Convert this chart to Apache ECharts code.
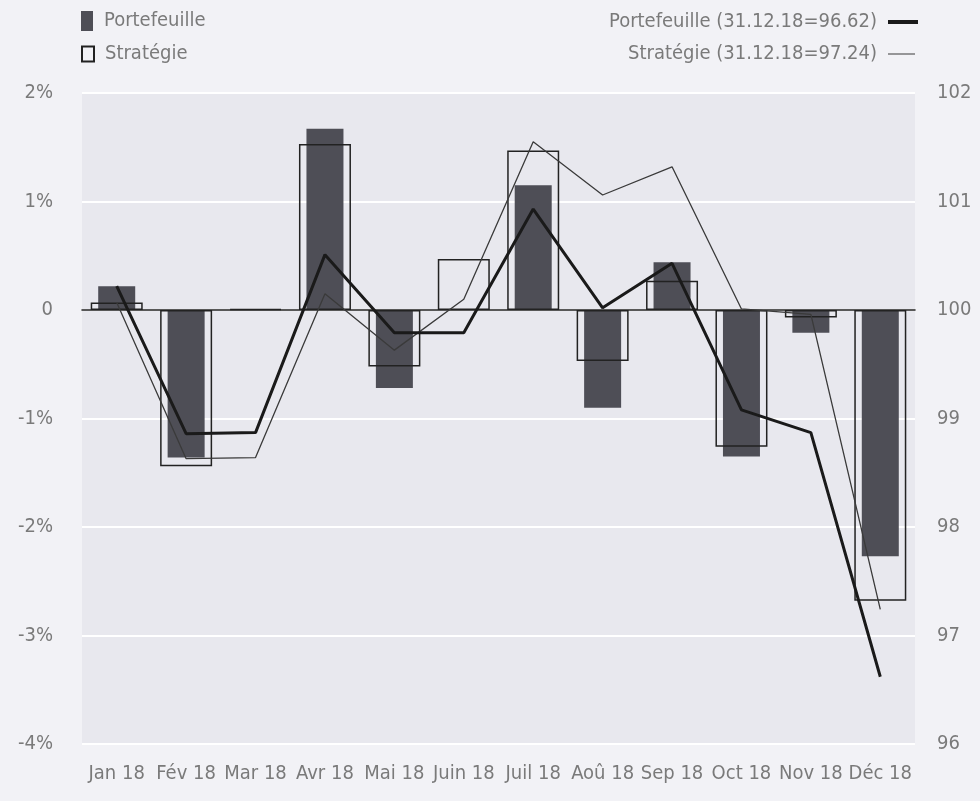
<!DOCTYPE html>
<html>
<head>
<meta charset="utf-8">
<script src="https://cdn.jsdelivr.net/npm/echarts@6/dist/echarts.min.js"></script>
<style>
  html, body { margin: 0; padding: 0; background: #f2f2f6; }
  #chart { width: 980px; height: 801px; }
</style>
</head>
<body>
<div id="chart"></div>
<script>
// mois
const months = ['Jan 18', 'Fév 18', 'Mar 18', 'Avr 18', 'Mai 18', 'Juin 18', 'Juil 18', 'Aoû 18', 'Sep 18', 'Oct 18', 'Nov 18', 'Déc 18']

// performances mensuelles (%)
const portfolioReturns = [0.22, -1.36, 0.01, 1.67, -0.72, 0.0, 1.15, -0.90, 0.44, -1.35, -0.21, -2.27]
const strategyReturns = [0.07, -1.44, 0.01, 1.53, -0.52, 0.47, 1.47, -0.47, 0.27, -1.26, -0.07, -2.68]

// indices base 100
const portfolioIndex = [100.22, 98.86, 98.87, 100.51, 99.79, 99.79, 100.93, 100.02, 100.43, 99.08, 98.87, 96.62]
const strategyIndex = [100.07, 98.63, 98.64, 100.15, 99.63, 100.10, 101.55, 101.06, 101.32, 100.01, 99.96, 97.24]

const FONT = 'DejaVu Sans Condensed'
const TEXT = '#7a7a7a'
const FONT_SIZE = 20

const chart = echarts.init(document.getElementById('chart'))

const legendBase = {
  orient: 'vertical',
  selectedMode: false,
}

// légende à gauche : icône puis texte
const leftText = { color: TEXT, fontSize: FONT_SIZE, fontFamily: FONT, padding: [0, 0, 0, 6] }
// légende à droite : texte puis icône
const rightText = { color: TEXT, fontSize: FONT_SIZE, fontFamily: FONT, padding: [0, 6, 0, 0] }

chart.setOption({
  backgroundColor: '#f2f2f6',
  animation: false,
  grid: {
    left: 82,
    right: 65,
    top: 93,
    bottom: 57,
    show: true,
    backgroundColor: '#e8e8ee',
    borderWidth: 0,
  },
  legend: [
    { ...legendBase, left: 76, top: 6, itemWidth: 12, itemHeight: 20, textStyle: leftText, data: [{ name: 'Portefeuille', icon: 'rect' }] },
    { ...legendBase, left: 76, top: 39, itemWidth: 12, itemHeight: 15, textStyle: leftText, data: [{ name: 'Stratégie', icon: 'rect' }] },
    { ...legendBase, right: 57, top: 7, align: 'right', itemWidth: 30, itemHeight: 4, textStyle: rightText, data: [{ name: 'Portefeuille (31.12.18=96.62)', icon: 'rect' }] },
    { ...legendBase, right: 60, top: 39, align: 'right', itemWidth: 27, itemHeight: 1, textStyle: rightText, data: [{ name: 'Stratégie (31.12.18=97.24)', icon: 'rect' }] },
  ],
  xAxis: [
    {
      type: 'category',
      data: months,
      axisLine: { show: false, onZero: false },
      axisTick: { show: false },
      axisLabel: { color: TEXT, fontSize: FONT_SIZE, fontFamily: FONT, margin: 20, interval: 0 },
      splitLine: { show: false },
    },
    {
      type: 'category',
      data: months,
      axisLine: { show: true, onZero: true, onZeroAxisIndex: 0, lineStyle: { color: '#222', width: 1.5 } },
      axisTick: { show: false },
      axisLabel: { show: false },
    },
  ],
  yAxis: [
    {
      type: 'value',
      min: -4,
      max: 2,
      interval: 1,
      axisLine: { show: false },
      axisTick: { show: false },
      axisLabel: {
        color: TEXT,
        fontSize: FONT_SIZE,
        fontFamily: FONT,
        margin: 29,
        formatter: v => (v === 0 ? '0' : v + '%'),
      },
      splitLine: { lineStyle: { color: '#ffffff', width: 2 } },
    },
    {
      type: 'value',
      min: 96,
      max: 102,
      interval: 1,
      axisLine: { show: false },
      axisTick: { show: false },
      axisLabel: { color: TEXT, fontSize: FONT_SIZE, fontFamily: FONT, margin: 22 },
      splitLine: { show: false },
    },
  ],
  series: [
    {
      name: 'Portefeuille',
      type: 'bar',
      xAxisIndex: 0,
      yAxisIndex: 0,
      data: portfolioReturns,
      barWidth: 37,
      itemStyle: { color: '#4e4e56' },
      z: 2,
    },
    {
      name: 'Stratégie',
      type: 'bar',
      xAxisIndex: 1,
      yAxisIndex: 0,
      data: strategyReturns,
      barWidth: 52,
      itemStyle: { color: 'rgba(0,0,0,0)', borderColor: '#222', borderWidth: 1.5 },
      z: 3,
    },
    {
      name: 'Portefeuille (31.12.18=96.62)',
      type: 'line',
      xAxisIndex: 0,
      yAxisIndex: 1,
      data: portfolioIndex,
      symbol: 'none',
      lineStyle: { color: '#1a1a1a', width: 3 },
      itemStyle: { color: '#1a1a1a' },
      z: 5,
    },
    {
      name: 'Stratégie (31.12.18=97.24)',
      type: 'line',
      xAxisIndex: 0,
      yAxisIndex: 1,
      data: strategyIndex,
      symbol: 'none',
      lineStyle: { color: '#3a3a3a', width: 1.3 },
      itemStyle: { color: '#3a3a3a' },
      z: 4,
    },
  ],
})
</script>
</body>
</html>
